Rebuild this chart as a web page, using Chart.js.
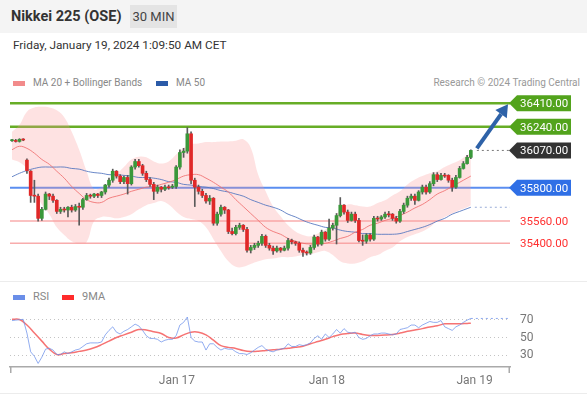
<!DOCTYPE html>
<html>
<head>
<meta charset="utf-8">
<script src="https://cdn.jsdelivr.net/npm/chart.js@4.4.1/dist/chart.umd.min.js"></script>
<style>
  body { margin: 0; width: 587px; height: 398px; background: #fff; font-family: Roboto, sans-serif; overflow: hidden; position: relative; }
  .abs { position: absolute; white-space: nowrap; }
  #hdr { left: 0; top: 0; width: 587px; height: 33px; background: #f4f4f4; }
  #title { left: 11px; top: 8px; font-size: 14.5px; font-weight: bold; color: #333; line-height: 18px; }
  #tf { left: 130px; top: 5px; width: 47px; height: 23px; background: #e4e4e4; font-size: 13px; color: #444; line-height: 23px; text-align: center; }
  #date { left: 13px; top: 37px; font-size: 11.8px; color: #333; line-height: 16px; }
  .sw { height: 5px; width: 12px; }
  .lg { font-size: 10px; color: #888; line-height: 14px; }
  .sep { left: 0; width: 587px; height: 1px; background: #ececec; }
  canvas { position: absolute; left: 0; }
</style>
</head>
<body>
<div class="abs" id="hdr"></div>
<div class="abs" id="title">Nikkei 225 (OSE)</div>
<div class="abs" id="tf">30 MIN</div>
<div class="abs" id="date">Friday, January 19, 2024 1:09:50 AM CET</div>

<div class="abs sw" style="left:13px;top:81px;background:#f28b8b"></div>
<div class="abs lg" style="left:33px;top:76px">MA 20 + Bollinger Bands</div>
<div class="abs sw" style="left:156px;top:81px;background:#2b5ba8"></div>
<div class="abs lg" style="left:176px;top:76px">MA 50</div>
<div class="abs lg" style="right:7px;top:76px;color:#999">Research © 2024 Trading Central</div>

<div class="abs sep" style="top:281px"></div>
<div class="abs sw" style="left:13px;top:295px;background:#6a8ee8"></div>
<div class="abs lg" style="left:33px;top:290px;font-size:11px">RSI</div>
<div class="abs sw" style="left:62px;top:295px;background:#ff2b2b"></div>
<div class="abs lg" style="left:82px;top:290px;font-size:11px">9MA</div>
<div class="abs sep" style="top:393px"></div>

<canvas id="main" width="587" height="280" style="top:0"></canvas>
<canvas id="rsi" width="587" height="108" style="top:290px"></canvas>

<script>
// 30 min bars, oldest first
const opens = [
  36140,36140,36135,36150,36000,35920,35745,35740,35580,35645,
  35755,35740,35710,35630,35645,35640,35660,35640,35665,35660,
  35715,35745,35740,35755,35745,35770,35820,35855,35920,35885,
  35845,35875,35830,35950,35990,35960,35905,35860,35825,35775,
  35805,35790,35805,35805,35810,35950,36055,36065,36190,35855,
  35805,35775,35745,35705,35725,35545,35610,35660,35640,35485,
  35470,35515,35530,35500,35350,35370,35385,35400,35450,35385,
  35365,35345,35365,35350,35365,35420,35410,35400,35350,35335,
  35330,35370,35445,35395,35480,35430,35510,35530,35600,35675,
  35625,35565,35610,35565,35420,35415,35460,35430,35580,35575,
  35590,35610,35610,35580,35560,35630,35675,35725,35740,35710,
  35770,35805,35770,35830,35895,35860,35890,35890,35855,35805,
  35875,35940,35975,36020
];
const highs = [
  36150,36150,36155,36155,36010,35925,35855,35755,35660,35770,
  35760,35755,35715,35660,35660,35665,35675,35680,35690,35725,
  35760,35755,35760,35760,35775,35825,35870,35935,35925,35895,
  35885,35890,35960,36005,36005,35970,35920,35875,35840,35820,
  35810,35820,35820,35825,35960,36075,36085,36235,36205,35870,
  35820,35790,35760,35745,35730,35625,35675,35665,35645,35510,
  35530,35545,35535,35515,35385,35400,35415,35465,35460,35400,
  35380,35380,35370,35380,35435,35430,35415,35410,35365,35345,
  35385,35460,35450,35495,35485,35575,35545,35615,35730,35680,
  35640,35625,35625,35580,35460,35470,35470,35595,35595,35600,
  35625,35630,35615,35595,35645,35690,35740,35755,35755,35780,
  35820,35820,35845,35910,35910,35905,35905,35895,35870,35890,
  35955,35990,36035,36075
];
const lows = [
  36135,36130,36130,36140,35905,35695,35695,35560,35565,35640,
  35715,35695,35615,35615,35625,35590,35625,35630,35530,35645,
  35710,35725,35730,35730,35730,35755,35805,35840,35870,35830,
  35830,35755,35820,35935,35950,35890,35845,35810,35715,35760,
  35770,35780,35790,35795,35795,35935,36020,36050,35830,35665,
  35755,35730,35690,35680,35530,35530,35595,35615,35470,35460,
  35460,35500,35485,35335,35330,35355,35370,35385,35370,35350,
  35320,35335,35335,35345,35350,35395,35385,35335,35305,35315,
  35320,35355,35380,35385,35415,35420,35495,35395,35590,35610,
  35550,35560,35550,35410,35385,35400,35415,35420,35560,35565,
  35580,35590,35565,35545,35550,35615,35660,35710,35680,35705,
  35755,35755,35760,35815,35845,35855,35875,35840,35775,35795,
  35870,35935,35970,36010
];
const closes = [
  36140,36135,36150,36145,35925,35745,35740,35580,35645,35755,
  35740,35710,35630,35645,35640,35660,35640,35665,35660,35715,
  35745,35740,35755,35745,35770,35820,35855,35920,35885,35845,
  35875,35830,35950,35990,35960,35905,35860,35825,35775,35805,
  35790,35805,35800,35810,35950,36055,36065,36190,35855,35805,
  35775,35745,35705,35725,35545,35610,35660,35640,35485,35470,
  35515,35530,35500,35350,35370,35385,35400,35450,35385,35365,
  35345,35365,35350,35365,35420,35410,35400,35350,35335,35330,
  35370,35445,35395,35480,35430,35510,35530,35600,35675,35625,
  35565,35610,35565,35420,35415,35460,35430,35580,35575,35590,
  35610,35605,35580,35560,35630,35675,35725,35740,35710,35770,
  35805,35770,35830,35895,35860,35890,35885,35855,35805,35875,
  35940,35975,36020,36070
];

// indicators read every second bar, plus the last bar
const ma20 = [
  36075,36100,36085,36050,36005,35970,35920,35870,35810,35760,
  35715,35695,35695,35725,35740,35755,35775,35790,35805,35810,
  35825,35840,35860,35885,35895,35895,35870,35840,35805,35770,
  35715,35665,35615,35565,35515,35485,35465,35435,35415,35400,
  35395,35395,35400,35415,35435,35450,35480,35500,35530,35545,
  35565,35580,35600,35625,35655,35680,35715,35755,35780,35810,
  35840,35870,35885
];
const ma50 = [
  35880,35905,35925,35940,35950,35950,35950,35950,35940,35935,
  35920,35910,35905,35895,35895,35890,35885,35875,35875,35870,
  35860,35845,35840,35825,35820,35810,35805,35795,35780,35770,
  35755,35740,35715,35695,35675,35660,35640,35610,35590,35565,
  35545,35530,35515,35510,35495,35485,35480,35470,35470,35465,
  35465,35465,35470,35485,35500,35515,35535,35560,35580,35610,
  35630,35650,35660
];
const bbUpper = [
  36205,36255,36350,36380,36385,36380,36360,36310,36205,36075,
  35920,35790,35805,35825,35895,35950,36005,36025,36020,35990,
  35975,35990,36040,36090,36115,36120,36130,36130,36135,36135,
  36140,36150,36090,35895,35775,35665,35595,35530,35485,35460,
  35450,35470,35500,35560,35645,35680,35675,35665,35665,35690,
  35710,35745,35775,35825,35860,35885,35905,35920,35950,35975,
  36000,36035,36050
];
const bbLower = [
  36005,35985,35935,35790,35680,35610,35515,35460,35415,35400,
  35410,35560,35590,35590,35580,35590,35610,35645,35675,35690,
  35705,35680,35630,35590,35575,35560,35515,35430,35345,35270,
  35230,35230,35250,35270,35285,35290,35300,35300,35305,35315,
  35320,35335,35345,35315,35270,35255,35255,35270,35300,35315,
  35345,35370,35415,35445,35465,35485,35515,35560,35590,35615,
  35640,35660,35675
];

const rsi = [
  69,69.5,70,70.4,55,34,29,21,28,37,
  38,36,31,31,34,32,34,36,37,40,
  43,44,44,44,45,53,58,62,56,54,
  57,59,62,65,63,58,52,49,49,48,
  45,47,48,48,52,64,67,73,50,46,
  45,45,36,43,43,39,36,38,37,37,
  34,32,32,31,33,36,39,41,37,35,
  34,36,37,38,43,40,40,42,41,42,
  44,49,52,48,54,50,54,59,55,60,
  56,55,56,50,48,49,52,54,54,55,
  55,54,53,54,59,60,61,64,64,61,
  64,66,68,67,67,69,62,60,58,62,
  64,67,69.5,71.4
];
const rsiMa9 = [
  70.4,70.2,64,55,46,37,31,32,33,34.5,
  36,38.5,42,46,50,53,56,59,58.5,56.5,
  54.5,50,49.5,53,56,56,53,47,41,39,
  37.8,35.5,34.4,34.6,35.5,36.4,37,38,39,40.2,
  43,45.5,48,51,53.5,54.5,55,53.5,52.4,52.4,
  52.8,53.5,55,57,58.5,60,61.8,63.2,65.4,65.4,
  65.4,65.8,66
];

const levels = [36410, 36240, 35800, 35560, 35400];
const rsiTicks = [30, 50, 70];
const dayLabels = ['Jan 17', 'Jan 18', 'Jan 19'];
const dayBars = [44.2, 84.4, 124];

Chart.defaults.font.family = 'Roboto';

const N = closes.length;
const last = N - 1;
const xMin = -0.54, xMax = 133.5;
const sx = k => (k < 62 ? k * 2 : last);
const pts = arr => arr.map((v, k) => ({ x: sx(k), y: v }));

// styles for the levels, same order as levels
const levelLine = ['#67ad26', '#67ad26', '#5b8ef0', '#f8acac', '#f8acac'];
const levelWidth = [2.5, 2.5, 2, 1.5, 1.5];
const levelBox = ['#52a31c', '#52a31c', '#2f6fe6', null, null];

function tag(ctx, x, y, text, fill) {
  ctx.save();
  ctx.font = '11.5px Roboto';
  ctx.textBaseline = 'middle';
  if (fill) {
    ctx.fillStyle = fill;
    ctx.beginPath();
    ctx.moveTo(x - 1, y);
    ctx.lineTo(x + 7, y - 8);
    ctx.lineTo(x + 61, y - 8);
    ctx.lineTo(x + 61, y + 8);
    ctx.lineTo(x + 7, y + 8);
    ctx.closePath();
    ctx.fill();
    ctx.fillStyle = '#fff';
  } else {
    ctx.fillStyle = '#ff3030';
  }
  ctx.fillText(text, x + 10, y + 1);
  ctx.restore();
}

const mainPlugin = {
  id: 'levels',
  beforeDatasetsDraw(chart) {
    const { ctx, chartArea: { left, right }, scales: { y } } = chart;
    levels.forEach((v, k) => {
      const py = y.getPixelForValue(v);
      ctx.save();
      ctx.strokeStyle = levelLine[k];
      ctx.lineWidth = levelWidth[k];
      ctx.beginPath();
      ctx.moveTo(left, py);
      ctx.lineTo(right, py);
      ctx.stroke();
      ctx.restore();
    });
  },
  afterDatasetsDraw(chart) {
    const { ctx, chartArea: { right }, scales: { x, y } } = chart;
    const xl = x.getPixelForValue(last);
    const yl = y.getPixelForValue(closes[last]);

    // dotted tails for price and MA 50
    ctx.save();
    ctx.setLineDash([2, 3]);
    ctx.lineWidth = 1;
    ctx.strokeStyle = '#777';
    ctx.beginPath();
    ctx.moveTo(xl + 6, yl);
    ctx.lineTo(right, yl);
    ctx.stroke();
    const ym = y.getPixelForValue(ma50[ma50.length - 1]);
    ctx.strokeStyle = '#98acd8';
    ctx.beginPath();
    ctx.moveTo(xl + 4, ym);
    ctx.lineTo(right, ym);
    ctx.stroke();
    ctx.restore();

    // target arrow
    const tx = right - 2, ty = y.getPixelForValue(levels[0]) + 1;
    const sx0 = xl + 6, sy0 = yl - 2;
    const a = Math.atan2(ty - sy0, tx - sx0);
    const hl = 12, hw = 7;
    const bx = tx - hl * Math.cos(a), by = ty - hl * Math.sin(a);
    ctx.save();
    ctx.strokeStyle = '#2e62a8';
    ctx.fillStyle = '#2e62a8';
    ctx.lineWidth = 4;
    ctx.beginPath();
    ctx.moveTo(sx0, sy0);
    ctx.lineTo(bx, by);
    ctx.stroke();
    ctx.beginPath();
    ctx.moveTo(tx, ty);
    ctx.lineTo(bx + hw * Math.sin(a), by - hw * Math.cos(a));
    ctx.lineTo(bx - hw * Math.sin(a), by + hw * Math.cos(a));
    ctx.closePath();
    ctx.fill();
    ctx.restore();

    // right hand tags
    levels.forEach((v, k) => tag(ctx, right, y.getPixelForValue(v), v.toFixed(2), levelBox[k]));
    tag(ctx, right, yl, closes[last].toFixed(2), '#333333');
  }
};

new Chart(document.getElementById('main'), {
  type: 'bar',
  data: {
    datasets: [
      { type: 'line', data: pts(bbUpper), borderColor: 'transparent', pointRadius: 0, tension: 0.4,
        fill: '+1', backgroundColor: 'rgba(250,150,150,0.28)', order: 10 },
      { type: 'line', data: pts(bbLower), borderColor: 'transparent', pointRadius: 0, tension: 0.4,
        fill: false, order: 10 },
      { type: 'line', data: pts(ma20), borderColor: 'rgba(240,110,110,0.85)', borderWidth: 1,
        pointRadius: 0, tension: 0.4, order: 5 },
      { type: 'line', data: pts(ma50), borderColor: 'rgba(80,115,190,0.85)', borderWidth: 1,
        pointRadius: 0, tension: 0.4, order: 5 },
      { data: closes.map((c, i) => ({ x: i, y: [lows[i], highs[i]] })),
        backgroundColor: '#5a5a5a', barThickness: 1, grouped: false, order: 2 },
      { data: closes.map((c, i) => ({ x: i, y: [opens[i], c] })),
        backgroundColor: closes.map((c, i) => (c >= opens[i] ? '#3a983a' : '#e02828')),
        barThickness: 3, minBarLength: 1, grouped: false, order: 1 }
    ]
  },
  options: {
    responsive: false,
    animation: false,
    layout: { padding: { left: 10, right: 77, top: 95, bottom: 9 } },
    plugins: { legend: { display: false }, tooltip: { enabled: false } },
    scales: {
      x: { type: 'linear', min: xMin, max: xMax, display: false, offset: false },
      y: { min: 35200, max: 36470, display: false }
    }
  },
  plugins: [mainPlugin]
});

const rsiPlugin = {
  id: 'rsiExtra',
  afterDatasetsDraw(chart) {
    const { ctx, chartArea: { left, right, bottom }, scales: { x, y } } = chart;
    const yr = y.getPixelForValue(rsi[last]);
    ctx.save();
    ctx.setLineDash([2, 3]);
    ctx.strokeStyle = 'rgba(110,145,235,0.8)';
    ctx.lineWidth = 1;
    ctx.beginPath();
    ctx.moveTo(x.getPixelForValue(last), yr);
    ctx.lineTo(right, yr);
    ctx.stroke();
    ctx.setLineDash([]);
    ctx.strokeStyle = '#aaa';
    ctx.lineWidth = 1.5;
    [left + 0.75, right - 0.75].forEach(px => {
      ctx.beginPath();
      ctx.moveTo(px, bottom);
      ctx.lineTo(px, bottom + 6);
      ctx.stroke();
    });
    ctx.restore();
  }
};

new Chart(document.getElementById('rsi'), {
  type: 'line',
  data: {
    datasets: [
      { data: rsi.map((v, i) => ({ x: i, y: v })), borderColor: 'rgba(110,145,235,0.75)',
        borderWidth: 1, pointRadius: 0, tension: 0 },
      { data: pts(rsiMa9), borderColor: 'rgba(245,90,90,0.85)', borderWidth: 1.5,
        pointRadius: 0, tension: 0.4 }
    ]
  },
  options: {
    responsive: false,
    animation: false,
    layout: { padding: { left: 10, right: 0, top: 15, bottom: 0 } },
    plugins: { legend: { display: false }, tooltip: { enabled: false } },
    scales: {
      x: {
        type: 'linear', min: xMin, max: xMax,
        grid: { display: false, drawTicks: false },
        border: { display: true, color: '#aaa', width: 1.5 },
        afterBuildTicks: s => { s.ticks = dayBars.map(v => ({ value: v })); },
        afterFit: s => { s.height = 31; },
        ticks: { autoSkip: false, maxRotation: 0, padding: 7, color: '#777', font: { size: 12 },
                 callback: (v, idx) => dayLabels[idx] }
      },
      y: {
        position: 'right', min: 17, max: 84,
        afterBuildTicks: s => { s.ticks = rsiTicks.map(v => ({ value: v })); },
        afterFit: s => { s.width = 77; },
        grid: { color: '#c4c4c4', drawTicks: false, lineWidth: 1 },
        border: { display: false, dash: [1, 3] },
        ticks: { padding: 10, color: '#777', font: { size: 12 } }
      }
    }
  },
  plugins: [rsiPlugin]
});
</script>
</body>
</html>
